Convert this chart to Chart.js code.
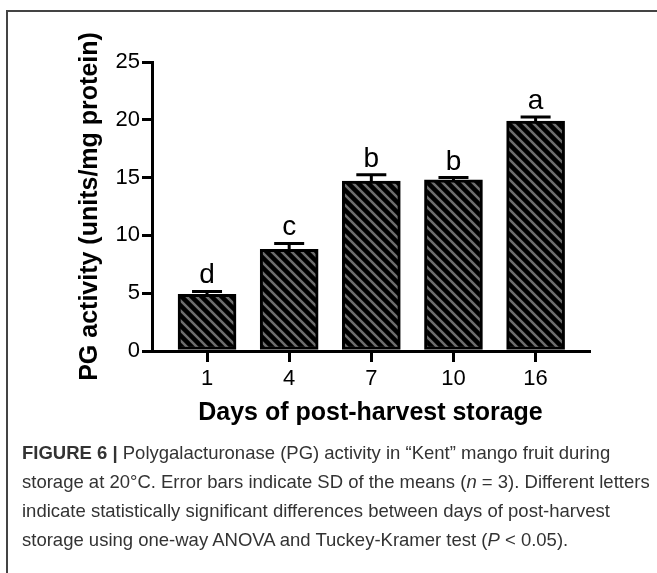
<!DOCTYPE html>
<html>
<head>
<meta charset="utf-8">
<script src="https://cdn.jsdelivr.net/npm/chart.js@4.4.0/dist/chart.umd.min.js"></script>
<style>
body { margin: 0; background: #fff; width: 657px; height: 573px; overflow: hidden; position: relative; font-family: "Liberation Sans", Arial, sans-serif; }
#frame { position: absolute; left: 6px; top: 10px; right: -10px; bottom: -10px; border-left: 2px solid #444; border-top: 2px solid #444; }
#wrap { position: absolute; left: 0; top: 0; }
#caption { position: absolute; left: 22px; top: 438px; font-size: 18.5px; line-height: 29px; color: #333; white-space: nowrap; }
</style>
</head>
<body>
<div id="frame"></div>
<div id="wrap"><canvas id="pgChart" width="657" height="440"></canvas></div>
<div id="caption"><b>FIGURE 6 |</b> Polygalacturonase (PG) activity in “Kent” mango fruit during<br>storage at 20°C. Error bars indicate SD of the means (<i>n</i> = 3). Different letters<br>indicate statistically significant differences between days of post-harvest<br>storage using one-way ANOVA and Tuckey-Kramer test (<i>P</i> &lt; 0.05).</div>
<script>
var days   = ["1", "4", "7", "10", "16"];
var pgMean = [4.9, 8.8, 14.7, 14.8, 19.9];
var pgSD   = [0.25, 0.5, 0.55, 0.2, 0.35];
var groups = ["d", "c", "b", "b", "a"];

var FONT = '"Liberation Sans", Arial, sans-serif';

// diagonal hatch fill like the prism bars
function hatch(ctx) {
    var c = document.createElement('canvas');
    c.width = 10; c.height = 10;
    var g = c.getContext('2d');
    g.fillStyle = '#000';
    g.fillRect(0, 0, 10, 10);
    g.strokeStyle = '#6e6e6e';
    g.lineWidth = 2.5;
    g.beginPath();
    g.moveTo(-5, -5); g.lineTo(15, 15);
    g.moveTo(-5, 5);  g.lineTo(5, 15);
    g.moveTo(5, -5);  g.lineTo(15, 5);
    g.stroke();
    return ctx.createPattern(c, 'repeat');
}

// upper SD whisker + significance letter
var errorBars = {
    id: 'errorBars',
    afterDatasetsDraw: function(chart) {
        var ctx  = chart.ctx;
        var ys   = chart.scales.y;
        var bars = chart.getDatasetMeta(0).data;
        ctx.save();
        ctx.strokeStyle = '#000';
        ctx.lineWidth = 3;
        ctx.fillStyle = '#000';
        ctx.font = '28px ' + FONT;
        ctx.textAlign = 'center';
        ctx.textBaseline = 'alphabetic';
        bars.forEach(function(bar, i) {
            var top = ys.getPixelForValue(pgMean[i] + pgSD[i]);
            ctx.beginPath();
            ctx.moveTo(bar.x, bar.y);
            ctx.lineTo(bar.x, top);
            ctx.moveTo(bar.x - 15, top);
            ctx.lineTo(bar.x + 15, top);
            ctx.stroke();
            ctx.fillText(groups[i], bar.x, top - 8);
        });
        ctx.restore();
    }
};

function loadChart() {
    var el  = document.getElementById('pgChart');
    var ctx = el.getContext('2d');
    new Chart(ctx, {
        type: 'bar',
        data: {
            datasets: [{
                data: pgMean.map(function(v, i) { return {x: i, y: v}; }),
                backgroundColor: hatch(ctx),
                borderColor: '#000',
                borderWidth: 3,
                borderSkipped: false,
                barThickness: 58
            }]
        },
        options: {
            responsive: false,
            animation: false,
            layout: { padding: { left: 0, right: 68, top: 62, bottom: 0 } },
            plugins: { legend: { display: false }, tooltip: { enabled: false } },
            scales: {
                x: {
                    type: 'linear',
                    offset: false,
                    min: -0.67,
                    max: 4.65,
                    afterBuildTicks: function(s) {
                        s.ticks = days.map(function(d, i) { return {value: i}; });
                    },
                    afterFit: function(s) { s.height = 89; },
                    ticks: {
                        callback: function(v) { return days[v]; },
                        color: '#000',
                        font: { family: FONT, size: 22 },
                        padding: 4
                    },
                    grid: { offset: false, drawOnChartArea: false, tickLength: 11, lineWidth: 3, color: '#000' },
                    border: { width: 3, color: '#000' },
                    title: {
                        display: true,
                        text: 'Days of post-harvest storage',
                        color: '#000',
                        font: { family: FONT, size: 25, weight: 'bold' },
                        padding: { top: 0, bottom: 12 }
                    }
                },
                y: {
                    min: 0,
                    max: 25,
                    afterFit: function(s) { s.width = 152; },
                    ticks: {
                        stepSize: 5,
                        color: '#000',
                        font: { family: FONT, size: 22 },
                        padding: 2
                    },
                    grid: { drawOnChartArea: false, tickLength: 10, lineWidth: 3, color: '#000' },
                    border: { width: 3, color: '#000' },
                    title: {
                        display: true,
                        text: 'PG activity (units/mg protein)',
                        color: '#000',
                        font: { family: FONT, size: 25, weight: 'bold' },
                        padding: { top: 75, bottom: 0 }
                    }
                }
            }
        },
        plugins: [errorBars]
    });
}
loadChart();
</script>
</body>
</html>
